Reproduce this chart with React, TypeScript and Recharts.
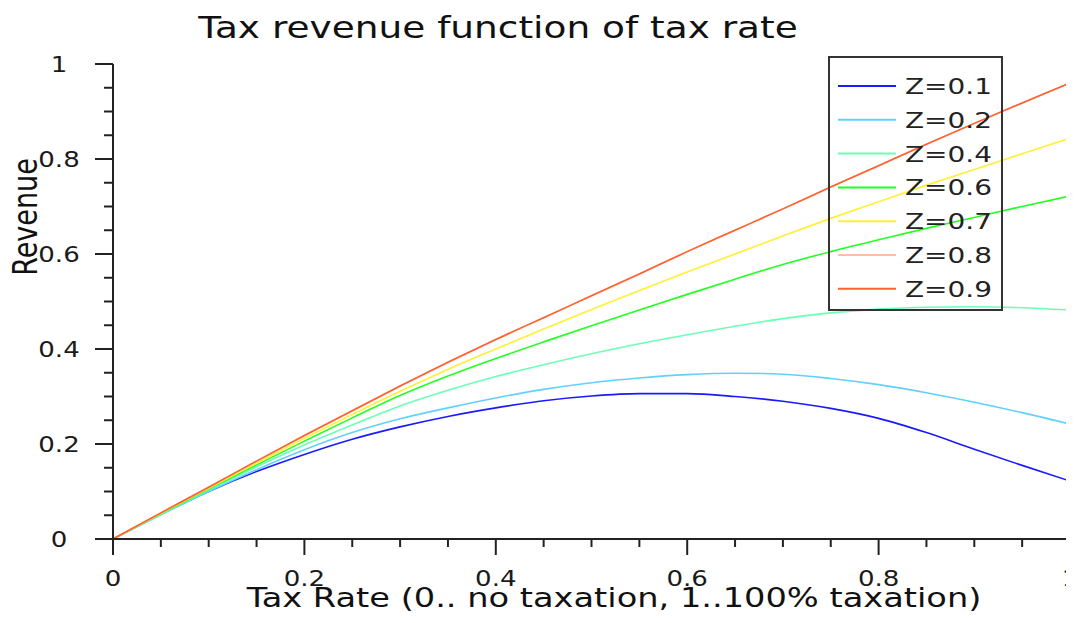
import { LineChart, Line, XAxis, YAxis } from "recharts";

// tax rate samples (x) and revenue per Z level (y)
const taxRate = [0, 0.05, 0.1, 0.15, 0.2, 0.25, 0.3, 0.35, 0.4, 0.45, 0.5, 0.55, 0.6, 0.65, 0.7, 0.75, 0.8, 0.85, 0.9, 0.95, 1];

const revZ01 = [0, 0.052, 0.1, 0.142, 0.178, 0.21, 0.236, 0.258, 0.276, 0.291, 0.301, 0.306, 0.306, 0.3, 0.29, 0.275, 0.254, 0.224, 0.189, 0.155, 0.122];
const revZ02 = [0, 0.051, 0.1, 0.146, 0.188, 0.224, 0.253, 0.276, 0.297, 0.315, 0.329, 0.339, 0.346, 0.349, 0.347, 0.338, 0.325, 0.308, 0.288, 0.266, 0.242];
const revZ04 = [0, 0.052, 0.103, 0.152, 0.198, 0.24, 0.28, 0.313, 0.342, 0.367, 0.39, 0.411, 0.43, 0.448, 0.464, 0.476, 0.484, 0.488, 0.489, 0.487, 0.482];
const revZ06 = [0, 0.053, 0.105, 0.156, 0.206, 0.255, 0.302, 0.343, 0.38, 0.415, 0.449, 0.482, 0.515, 0.547, 0.578, 0.605, 0.63, 0.654, 0.677, 0.7, 0.722];
const revZ07 = [0, 0.054, 0.107, 0.16, 0.212, 0.262, 0.311, 0.357, 0.4, 0.442, 0.483, 0.523, 0.562, 0.6, 0.638, 0.675, 0.71, 0.745, 0.778, 0.811, 0.844];
const revZ08 = [0, 0.055, 0.109, 0.164, 0.218, 0.27, 0.322, 0.372, 0.42, 0.466, 0.512, 0.558, 0.605, 0.65, 0.695, 0.741, 0.786, 0.831, 0.875, 0.918, 0.96];
const revZ09 = [0, 0.055, 0.109, 0.164, 0.218, 0.27, 0.322, 0.372, 0.42, 0.466, 0.512, 0.558, 0.605, 0.65, 0.695, 0.741, 0.786, 0.831, 0.875, 0.918, 0.96];

const seriesKeys = ["z1", "z2", "z4", "z6", "z7", "z8", "z9"];
const seriesNames = ["Z=0.1", "Z=0.2", "Z=0.4", "Z=0.6", "Z=0.7", "Z=0.8", "Z=0.9"];
const seriesColors = ["#1a1aff", "#60d0ff", "#6cffb6", "#22ff22", "#fff033", "#ffc0a0", "#ff6030"];

const xTicks = [0, 0.05, 0.1, 0.15, 0.2, 0.25, 0.3, 0.35, 0.4, 0.45, 0.5, 0.55, 0.6, 0.65, 0.7, 0.75, 0.8, 0.85, 0.9, 0.95, 1];
const yTicks = [0, 0.05, 0.1, 0.15, 0.2, 0.25, 0.3, 0.35, 0.4, 0.45, 0.5, 0.55, 0.6, 0.65, 0.7, 0.75, 0.8, 0.85, 0.9, 0.95, 1];

const data = taxRate.map((t, i) => ({
  t,
  z1: revZ01[i],
  z2: revZ02[i],
  z4: revZ04[i],
  z6: revZ06[i],
  z7: revZ07[i],
  z8: revZ08[i],
  z9: revZ09[i],
}));

const W = 1066;
const H = 615;
const FONT = "DejaVu Sans";
const INK = "#222";
const STRETCH = 1.27; // text is drawn a bit wide

const isMajor = (v: number) => Math.abs(v * 5 - Math.round(v * 5)) < 1e-6;
const fmt = (v: number) => String(Math.round(v * 10) / 10);

function XTick(props: any) {
  const { x, y, payload } = props;
  const major = isMajor(payload.value);
  return (
    <g>
      <line x1={x} x2={x} y1={y} y2={y + (major ? 16 : 8)} stroke={INK} strokeWidth={2} />
      {major && (
        <text
          transform={`translate(${x},${y + 47}) scale(${STRETCH},1)`}
          textAnchor="middle"
          fontSize={20.5}
          fontFamily={FONT}
          fill="#1a1a1a"
        >
          {fmt(payload.value)}
        </text>
      )}
    </g>
  );
}

function YTick(props: any) {
  const { x, y, payload } = props;
  const major = isMajor(payload.value);
  return (
    <g>
      <line x1={x - (major ? 18 : 9)} x2={x} y1={y} y2={y} stroke={INK} strokeWidth={2} />
      {major && (
        <text
          transform={`translate(${x - 54},${y + 7.5}) scale(${STRETCH},1)`}
          textAnchor="middle"
          fontSize={20.5}
          fontFamily={FONT}
          fill="#1a1a1a"
        >
          {fmt(payload.value)}
        </text>
      )}
    </g>
  );
}

function Overlay() {
  return (
    <svg
      width={W}
      height={H}
      style={{ position: "absolute", left: 0, top: 0, pointerEvents: "none" }}
    >
      <text
        transform={`translate(490,30) scale(${STRETCH},1)`}
        textAnchor="middle"
        fontSize={29.5}
        fontFamily={FONT}
        fill="#111"
      >
        Tax revenue function of tax rate
      </text>
      <text
        transform={`translate(606,599) scale(${STRETCH},1)`}
        textAnchor="middle"
        fontSize={26.5}
        fontFamily={FONT}
        fill="#111"
      >
        Tax Rate (0.. no taxation, 1..100% taxation)
      </text>
      <text
        transform={`translate(29,209) rotate(-90) scale(1,${STRETCH})`}
        textAnchor="middle"
        fontSize={27}
        fontFamily={FONT}
        fill="#111"
      >
        Revenue
      </text>
      <rect x={821} y={49} width={173} height={253} fill="none" stroke="#333" strokeWidth={2} />
      {seriesNames.map((name, i) => {
        const cy = 78 + i * 33.8;
        return (
          <g key={name}>
            <line x1={830} x2={888} y1={cy} y2={cy} stroke={seriesColors[i]} strokeWidth={2} />
            <text
              transform={`translate(897,${cy + 8}) scale(${STRETCH},1)`}
              fontSize={22}
              fontFamily={FONT}
              fill={INK}
            >
              {name}
            </text>
          </g>
        );
      })}
    </svg>
  );
}

export default function App() {
  return (
    <div style={{ position: "relative", width: W, height: H }}>
      <LineChart
        width={W}
        height={H}
        data={data}
        margin={{ top: 56, right: 4, bottom: 54, left: 45 }}
      >
        <XAxis
          dataKey="t"
          type="number"
          domain={[0, 1]}
          ticks={xTicks}
          interval={0}
          height={30}
          tickSize={0}
          tickMargin={0}
          tickLine={false}
          axisLine={{ stroke: INK, strokeWidth: 2 }}
          tick={<XTick />}
        />
        <YAxis
          type="number"
          domain={[0, 1]}
          ticks={yTicks}
          interval={0}
          width={60}
          tickSize={0}
          tickMargin={0}
          tickLine={false}
          axisLine={{ stroke: INK, strokeWidth: 2 }}
          tick={<YTick />}
        />
        {seriesKeys.map((k, i) => (
          <Line
            key={k}
            type="monotone"
            dataKey={k}
            name={seriesNames[i]}
            stroke={seriesColors[i]}
            strokeWidth={1.6}
            dot={false}
            isAnimationActive={false}
          />
        ))}
      </LineChart>
      <Overlay />
    </div>
  );
}
